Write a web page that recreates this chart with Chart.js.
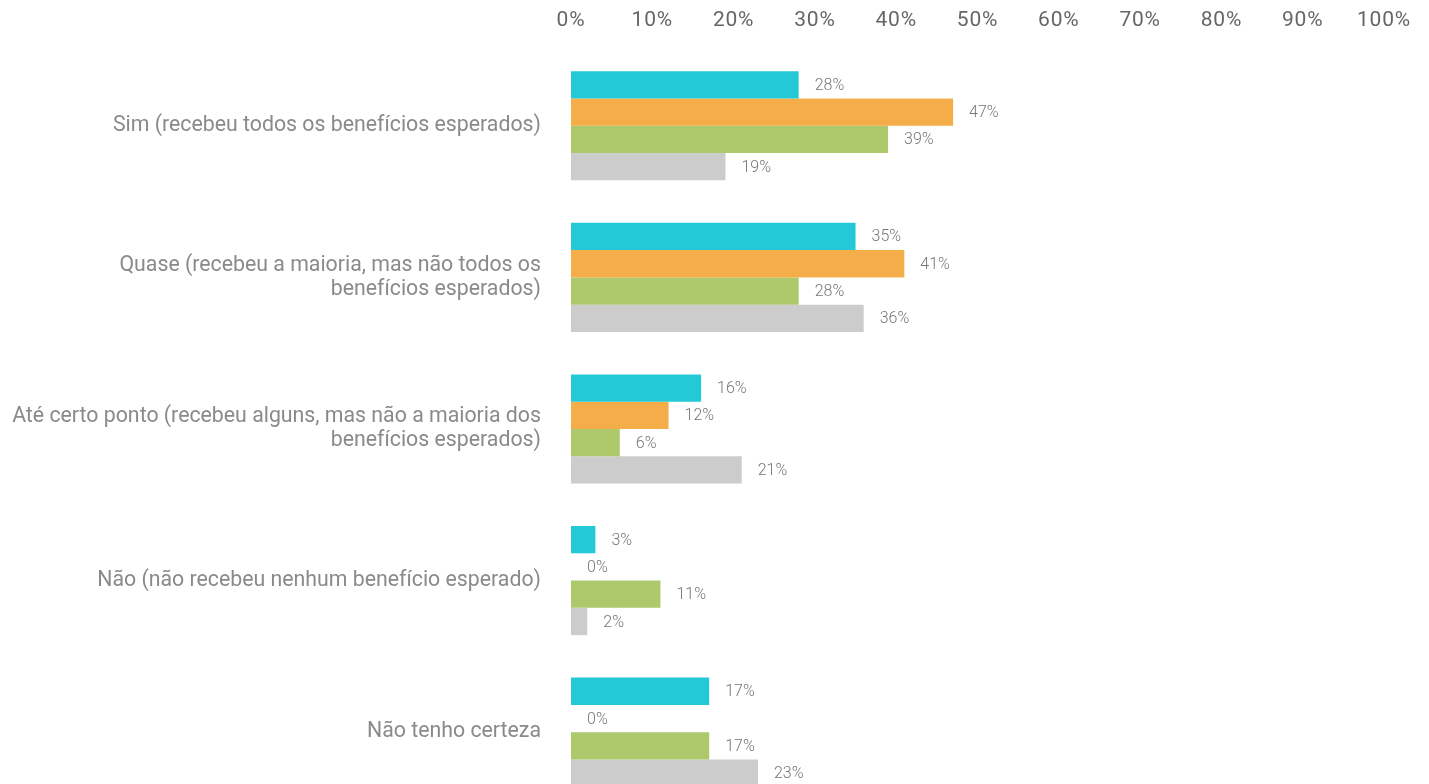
<!DOCTYPE html>
<html>
<head>
<meta charset="utf-8">
<script src="https://cdn.jsdelivr.net/npm/chart.js@4.4.1/dist/chart.umd.min.js"></script>
<style>
  html, body { margin: 0; padding: 0; background: #fff; overflow: hidden; }
  #wrap { width: 1429px; height: 850px; }
</style>
</head>
<body>
<div id="wrap"><canvas id="chart" width="1429" height="850"></canvas></div>
<script>
// Données
const categories = [
  "Sim (recebeu todos os benefícios esperados)",
  ["Quase (recebeu a maioria, mas não todos os", "benefícios esperados)"],
  ["Até certo ponto (recebeu alguns, mas não a maioria dos", "benefícios esperados)"],
  "Não (não recebeu nenhum benefício esperado)",
  "Não tenho certeza"
];
const serie1 = [28, 35, 16, 3, 17];
const serie2 = [47, 41, 12, 0, 0];
const serie3 = [39, 28, 6, 11, 17];
const serie4 = [19, 36, 21, 2, 23];
const xTicks = [0, 10, 20, 30, 40, 50, 60, 70, 80, 90, 100];

const colors = ["#23c9d6", "#f4ad48", "#adc96b", "#cccccc"];
const seriesNames = ["Série 1", "Série 2", "Série 3", "Série 4"];

// Étiquettes en bout de barre
const valueLabels = {
  id: "valueLabels",
  afterDatasetsDraw(chart) {
    const ctx = chart.ctx;
    ctx.save();
    ctx.font = "300 16px Roboto";
    ctx.fillStyle = "#777777";
    ctx.textAlign = "left";
    ctx.textBaseline = "middle";
    chart.data.datasets.forEach((ds, i) => {
      chart.getDatasetMeta(i).data.forEach((bar, j) => {
        ctx.fillText(ds.data[j] + "%", bar.x + 16, bar.y + 1);
      });
    });
    ctx.restore();
  }
};

// Espacement des lettres pour l'axe du haut
const spacedTicks = {
  id: "spacedTicks",
  beforeDraw(chart) {
    const xs = chart.scales.x;
    if (xs._spaced) return;
    const orig = xs.drawLabels.bind(xs);
    xs.drawLabels = function(area) {
      this.ctx.save();
      this.ctx.letterSpacing = "0.8px";
      orig(area);
      this.ctx.restore();
    };
    xs._spaced = true;
  }
};

new Chart(document.getElementById("chart"), {
  type: "bar",
  data: {
    labels: categories,
    datasets: [serie1, serie2, serie3, serie4].map((d, i) => ({
      label: seriesNames[i],
      data: d,
      backgroundColor: colors[i],
      barPercentage: 1,
      categoryPercentage: 0.72
    }))
  },
  options: {
    indexAxis: "y",
    responsive: false,
    animation: false,
    layout: { padding: { left: 0, right: 45, top: 0, bottom: 0 } },
    plugins: { legend: { display: false }, tooltip: { enabled: false } },
    scales: {
      x: {
        position: "top",
        min: 0,
        max: 100,
        afterBuildTicks: s => { s.ticks = xTicks.map(v => ({ value: v })); },
        afterFit: s => { s.height = 50; },
        grid: { display: false, drawTicks: false },
        border: { display: false },
        ticks: {
          color: "#666666",
          font: { family: "Roboto", size: 21 },
          padding: 17,
          callback: v => v + "%"
        }
      },
      y: {
        afterFit: s => { s.width = 571; },
        grid: { display: false, drawTicks: false },
        border: { display: false },
        ticks: {
          color: "#8a8a8a",
          font: { family: "Roboto", size: 21.3, lineHeight: 1.13 },
          padding: 30
        }
      }
    }
  },
  plugins: [valueLabels, spacedTicks]
});
</script>
</body>
</html>
